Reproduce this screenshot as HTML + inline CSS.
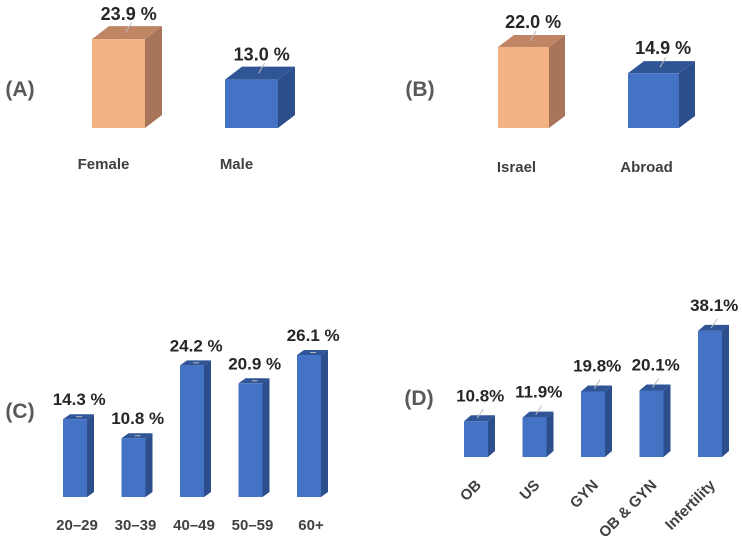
<!DOCTYPE html>
<html><head><meta charset="utf-8"><style>
body{margin:0;background:#fff}
svg{display:block}
text{font-family:"Liberation Sans",sans-serif;font-weight:bold}
</style></head><body>
<svg id="c" width="742" height="549" viewBox="0 0 742 549"></svg>
<script>
const catsA=["Female","Male"];
const valsA=[23.9,13.0];
const labsA=["23.9 %","13.0 %"];
const catsB=["Israel","Abroad"];
const valsB=[22.0,14.9];
const labsB=["22.0 %","14.9 %"];
const catsC=["20–29","30–39","40–49","50–59","60+"];
const valsC=[14.3,10.8,24.2,20.9,26.1];
const labsC=["14.3 %","10.8 %","24.2 %","20.9 %","26.1 %"];
const catsD=["OB","US","GYN","OB & GYN","Infertility"];
const valsD=[10.8,11.9,19.8,20.1,38.1];
const labsD=["10.8%","11.9%","19.8%","20.1%","38.1%"];

const svg=document.getElementById('c');
const NS='http://www.w3.org/2000/svg';
function mk(t,a){const e=document.createElementNS(NS,t);for(const k in a)e.setAttribute(k,a[k]);svg.appendChild(e);return e;}
const blue={f:"#4472C4",s:"#2D4E8C",t:"#2F5597"};
const orange={f:"#F4B183",s:"#A8745A",t:"#BF8565"};

function panel(p){
  const y=v=>p.base-v*p.scale;
  p.vals.forEach((v,i)=>{
    const x=p.x0+i*p.step, w=p.w, dx=p.dx, dy=p.dy, top=y(v), b=p.base;
    const col=p.colors?p.colors[i]:blue;
    let e=mk('polygon',{points:`${x+w},${top} ${x+w+dx},${top-dy} ${x+w+dx},${b-dy} ${x+w},${b}`,fill:col.s});
    
    
    e=mk('polygon',{points:`${x},${top} ${x+dx},${top-dy} ${x+w+dx},${top-dy} ${x+w},${top}`,fill:col.t});
    
    
    e=mk('rect',{x:x,y:top,width:w,height:b-top,fill:col.f});
    
    
    const cx=x+w/2+dx*0.6;
    e=mk('line',{x1:cx-3,y1:top-dy/2,x2:cx+3,y2:top-dy/2-p.lead,stroke:"#bbb","stroke-width":1});
    
    
    e=mk('text',{x:cx+p.lx,y:top-dy-p.ly,"text-anchor":"middle","font-size":p.fs,fill:"#262626"});
    e.textContent=p.labs[i];
    
    
    if(p.rot){
      e=mk('text',{x:x+w/2+6,y:p.cy,"text-anchor":"end","font-size":p.cfs,fill:"#404040",transform:`rotate(-45 ${x+w/2+6} ${p.cy})`});
    }else{
      e=mk('text',{x:x+w/2+p.cdx,y:p.cy,"text-anchor":"middle","font-size":p.cfs,fill:"#404040"});
    }
    e.textContent=p.cats[i];
    
    
  });
  const t=mk('text',{x:p.tx,y:p.ty,"font-size":21,fill:"#595959","text-anchor":"middle"});
  t.textContent=p.title;
  
  
}
panel({id:'a',title:'(A)',tx:20,ty:96,vals:valsA,labs:labsA,cats:catsA,x0:92,step:133,w:53,dx:17,dy:13,base:128,scale:3.72,colors:[orange,blue],fs:18,lx:0,ly:6,lead:10,cy:169,cfs:15,cdx:-15});
panel({id:'b',title:'(B)',tx:420,ty:96,vals:valsB,labs:labsB,cats:catsB,x0:498,step:130,w:51,dx:16,dy:12,base:128,scale:3.68,colors:[orange,blue],fs:18,lx:0,ly:7,lead:10,cy:172,cfs:15,cdx:-7});
panel({id:'c',title:'(C)',tx:20,ty:418,vals:valsC,labs:labsC,cats:catsC,x0:63,step:58.5,w:24,dx:7,dy:5,base:497,scale:5.44,fs:17,lx:0,ly:9,lead:0,cy:530,cfs:15,cdx:2});
panel({id:'d',title:'(D)',tx:419,ty:405,vals:valsD,labs:labsD,cats:catsD,x0:464,step:58.5,w:24,dx:7,dy:6,base:457,scale:3.31,fs:17,lx:0,ly:14,lead:9,cy:486,cfs:15,rot:true});
</script>
</body></html>
